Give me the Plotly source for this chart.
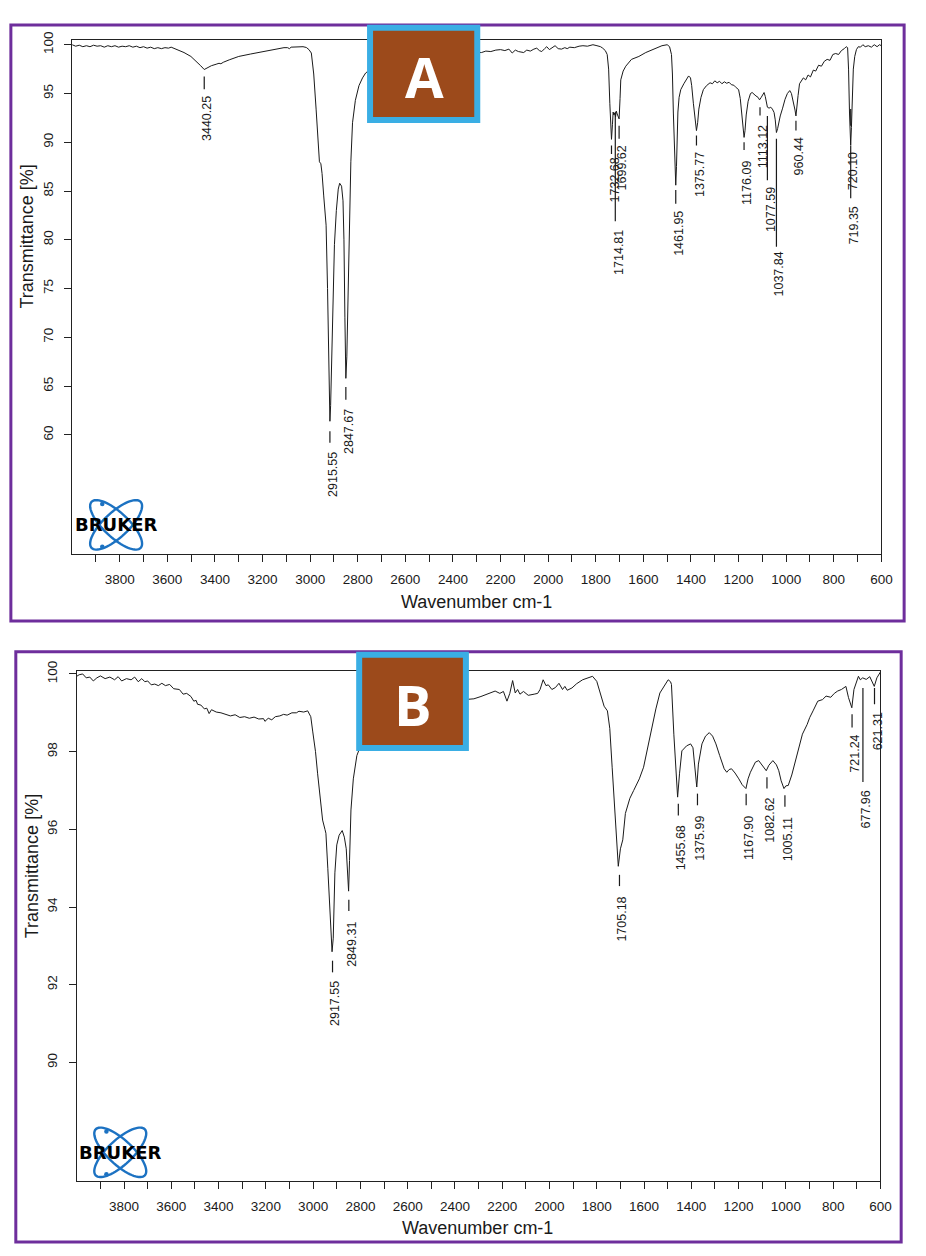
import math
import plotly.graph_objects as go

W, H = 926, 1256

# ---------------- Panel A data (wavenumber cm-1, transmittance %) ----------------
A_wn = [4000, 3985, 3970, 3955, 3940, 3925, 3910, 3895, 3880, 3865, 3850, 3835, 3820, 3805, 3790,
        3775, 3760, 3745, 3730, 3715, 3700, 3685, 3670, 3655, 3640, 3625, 3610, 3595, 3584, 3556,
        3530, 3501, 3473, 3460, 3445, 3430, 3415, 3395, 3383, 3375, 3365, 3340, 3300, 3250, 3196,
        3150, 3110, 3095, 3087, 3080, 3050, 3030, 3016, 3005, 2995, 2985, 2975, 2966, 2961, 2955,
        2950, 2943, 2933, 2927, 2922, 2919, 2917, 2914, 2910, 2905, 2898, 2890, 2882, 2876, 2868,
        2862, 2858, 2854, 2850, 2846, 2841, 2836, 2829, 2822, 2810, 2795, 2780, 2767, 2730, 2690,
        2640, 2580, 2520, 2460, 2400, 2340, 2300, 2280, 2262, 2241, 2220, 2200, 2182, 2165, 2151,
        2138, 2125, 2103, 2090, 2075, 2060, 2048, 2037, 2027, 2015, 2006, 1995, 1985, 1971, 1958,
        1944, 1930, 1920, 1909, 1890, 1870, 1854, 1835, 1812, 1795, 1780, 1771, 1760, 1752, 1746,
        1741, 1737, 1734, 1730, 1727, 1724, 1720, 1717, 1714, 1710, 1706, 1702, 1698, 1695, 1685,
        1674, 1650, 1619, 1590, 1555, 1522, 1500, 1490, 1482, 1478, 1474, 1470, 1466, 1464, 1461,
        1458, 1455, 1450, 1443, 1430, 1420, 1410, 1402, 1397, 1390, 1383, 1377, 1372, 1367, 1358,
        1348, 1335, 1320, 1310, 1300, 1290, 1280, 1270, 1260, 1250, 1240, 1230, 1220, 1210, 1200,
        1193, 1186, 1180, 1177, 1173, 1168, 1160, 1150, 1143, 1135, 1127, 1118, 1112, 1105, 1098,
        1093, 1088, 1083, 1079, 1072, 1065, 1058, 1051, 1046, 1041, 1036, 1030, 1025, 1015, 1005,
        995, 985, 978, 970, 963, 959, 955, 950, 944, 936, 928, 918, 908, 898, 886,
        876, 864, 852, 840, 828, 816, 804, 792, 780, 768, 756, 748, 742, 738, 734,
        731, 729, 726, 722, 718, 712, 705, 697, 688, 678, 668, 655, 642, 630, 618,
        608, 600]
A_T = [100.0, 99.85, 99.95, 99.8, 99.9, 99.8, 99.95, 99.85, 99.9, 99.75, 99.9, 99.8, 99.9, 99.75, 99.85,
       99.8, 99.9, 99.75, 99.85, 99.7, 99.8, 99.65, 99.75, 99.6, 99.7, 99.6, 99.7, 99.65, 99.75, 99.5,
       99.2, 98.8, 98.2, 97.85, 97.46, 97.65, 97.85, 98.0, 98.1, 98.05, 98.2, 98.45, 98.8, 99.05, 99.3,
       99.55, 99.7, 99.7, 99.6, 99.75, 99.8, 99.8, 99.72, 99.5, 99.15, 97.0, 93.4, 89.5, 88.0, 87.8,
       86.8, 84.5, 81.5, 75.0, 68.0, 63.0, 61.4, 63.0, 68.0, 74.0, 79.5, 83.0, 85.2, 85.8, 85.5,
       84.0, 80.0, 72.0, 65.8, 68.0, 75.0, 81.5, 88.0, 92.0, 94.3, 95.8, 96.6, 97.1, 97.8, 98.3,
       98.7, 98.95, 99.1, 99.2, 99.2, 99.25, 99.2, 99.2, 99.35, 99.3, 99.45, 99.5, 99.4, 99.55, 99.15,
       99.45, 99.3, 99.2, 99.45, 99.35, 99.55, 99.65, 99.4, 99.3, 99.6, 99.8, 99.5, 99.7, 99.9, 99.6,
       99.55, 99.7, 99.6, 99.75, 99.7, 99.85, 99.9, 99.85, 100.0, 99.9, 99.8, 99.65, 99.4, 99.0, 97.5,
       94.0, 91.5, 90.3, 91.8, 93.1, 92.8, 93.0, 92.6, 93.2, 92.9, 92.5, 92.4, 94.5, 96.4, 97.3,
       97.8, 98.5, 98.8, 99.2, 99.6, 99.9, 100.0, 99.8, 99.0, 97.0, 93.0, 89.7, 86.8, 85.6, 87.5,
       91.0, 93.1, 94.6, 95.4, 96.0, 96.4, 96.8, 96.6, 95.8, 94.0, 92.3, 91.2, 92.0, 93.4, 94.6,
       95.4, 95.8, 96.1, 96.0, 96.3, 96.1, 96.25, 96.0, 96.2, 96.05, 96.15, 95.9, 95.85, 95.6, 95.4,
       94.5, 92.5, 91.0, 90.5, 91.2, 92.8, 94.2, 95.0, 95.1, 94.9, 94.75, 94.6, 94.35, 94.6, 95.0,
       95.1, 94.7, 94.0, 93.6, 93.5, 93.6, 93.4, 93.06, 92.3, 91.0, 91.4, 92.2, 92.7, 93.5, 94.4,
       95.0, 95.3, 95.0, 94.2, 93.3, 92.7, 93.4, 94.8, 96.0, 96.3, 96.6, 96.4, 96.9, 96.7, 97.4,
       97.3, 97.9, 97.8, 98.3, 98.5, 98.4, 99.0, 99.1, 99.0, 99.4, 99.6, 99.8, 99.7, 97.5, 93.0,
       90.5, 89.7, 91.5, 95.0, 97.5, 98.8, 99.5, 99.8, 99.75, 100.0, 99.8, 99.9, 99.75, 100.0, 99.8,
       100.0, 99.9]

A_peak_labels = ["3440.25", "2915.55", "2847.67", "1732.68", "1714.81", "1699.62", "1461.95",
                 "1375.77", "1176.09", "1113.12", "1077.59", "1037.84", "960.44", "720.10", "719.35"]
# label placement (x in cm-1, dash start/end and text top in %T)
A_label_x = [3445, 2917, 2850, 1734, 1718, 1702, 1464, 1377, 1177, 1110, 1079, 1041, 959, 729, 729]
A_dash_top = [96.75, 60.37, 64.9, 89.66, 93.1, 91.7, 85.1, 90.7, 90.0, 93.6, 92.7, 90.35, 92.2, 93.4, 89.66]
A_dash_bot = [95.43, 59.2, 63.6, 88.8, 81.9, 90.35, 83.7, 89.66, 89.2, 92.74, 86.1, 79.3, 91.2, 91.7, 84.25]
A_text_top = [94.92, 58.5, 62.9, 88.65, 81.2, 89.84, 83.2, 89.2, 88.3, 91.9, 85.6, 79.0, 90.7, 89.16, 83.6]

# ---------------- Panel B data ----------------
B_wn = [4000, 3990, 3975, 3960, 3945, 3930, 3915, 3900, 3880, 3860, 3840, 3825, 3810, 3790, 3770,
        3755, 3740, 3725, 3712, 3700, 3685, 3670, 3655, 3640, 3625, 3607, 3590, 3575, 3566, 3550,
        3535, 3517, 3505, 3495, 3489, 3475, 3460, 3450, 3440, 3430, 3410, 3390, 3370, 3350, 3330,
        3310, 3290, 3270, 3250, 3230, 3210, 3204, 3190, 3175, 3160, 3141, 3125, 3110, 3090, 3071,
        3060, 3040, 3023, 3010, 3002, 2990, 2981, 2970, 2960, 2950, 2946, 2938, 2932, 2925, 2920,
        2915, 2908, 2900, 2890, 2877, 2868, 2860, 2855, 2850, 2846, 2840, 2830, 2815, 2790, 2750,
        2700, 2650, 2600, 2550, 2500, 2450, 2400, 2340, 2320, 2290, 2270, 2250, 2230, 2210, 2195,
        2180, 2168, 2156, 2145, 2135, 2125, 2110, 2090, 2065, 2050, 2040, 2027, 2015, 2005, 1990,
        1975, 1960, 1945, 1935, 1925, 1905, 1885, 1860, 1840, 1818, 1800, 1785, 1769, 1755, 1745,
        1735, 1722, 1709, 1700, 1690, 1679, 1660, 1644, 1620, 1602, 1585, 1568, 1550, 1533, 1515,
        1498, 1488, 1484, 1474, 1465, 1458, 1450, 1440, 1420, 1403, 1393, 1385, 1377, 1370, 1355,
        1340, 1324, 1310, 1296, 1280, 1261, 1250, 1240, 1230, 1215, 1199, 1185, 1169, 1160, 1150,
        1129, 1115, 1100, 1083, 1072, 1055, 1040, 1030, 1020, 1008, 1000, 990, 975, 955, 930,
        910, 899, 885, 865, 845, 830, 810, 795, 781, 765, 746, 735, 721, 712, 693,
        685, 675, 660, 645, 637, 626, 615, 605, 600]
B_T = [99.94, 99.98, 100.0, 99.9, 99.92, 99.82, 99.9, 99.95, 99.88, 99.92, 99.85, 99.93, 99.82, 99.88, 99.85,
       99.92, 99.8, 99.88, 99.8, 99.82, 99.72, 99.74, 99.7, 99.76, 99.7, 99.73, 99.62, 99.6, 99.6, 99.48,
       99.5, 99.42, 99.3, 99.32, 99.22, 99.2, 99.1, 99.12, 98.98, 99.08, 99.02, 99.0, 98.96, 98.92, 98.95,
       98.88, 98.9, 98.86, 98.89, 98.84, 98.85, 98.78, 98.86, 98.82, 98.9, 98.92, 98.96, 98.94, 99.0, 99.0,
       99.04, 99.02, 99.05, 98.9, 98.53, 98.0, 97.43, 96.8, 96.24, 96.0, 95.9, 95.0, 94.2, 93.2, 92.85,
       93.2, 94.88, 95.6, 95.85, 95.97, 95.8, 95.5, 94.9, 94.41, 95.2, 96.5, 97.3, 97.9, 98.3, 98.6,
       98.8, 99.0, 99.1, 99.2, 99.25, 99.3, 99.32, 99.34, 99.36, 99.42, 99.47, 99.5, 99.56, 99.5, 99.55,
       99.3, 99.5, 99.83, 99.51, 99.6, 99.48, 99.55, 99.45, 99.48, 99.5, 99.6, 99.85, 99.7, 99.72, 99.6,
       99.65, 99.76, 99.6, 99.68, 99.58, 99.64, 99.75, 99.85, 99.9, 99.94, 99.81, 99.47, 99.17, 99.05, 98.6,
       97.6, 96.24, 95.05, 95.5, 95.73, 96.41, 96.8, 97.0, 97.3, 97.6, 98.1, 98.62, 99.1, 99.51, 99.7,
       99.85, 99.8, 99.73, 98.45, 97.4, 96.83, 97.43, 98.02, 98.15, 98.2, 98.1, 97.6, 97.09, 97.68, 98.2,
       98.4, 98.49, 98.4, 98.2, 97.9, 97.56, 97.47, 97.54, 97.56, 97.45, 97.3, 97.15, 97.05, 97.3, 97.47,
       97.73, 97.77, 97.65, 97.51, 97.65, 97.77, 97.66, 97.51, 97.25, 97.05, 97.12, 97.13, 97.4, 97.86, 98.45,
       98.7, 98.88, 99.05, 99.3, 99.34, 99.43, 99.4, 99.5, 99.56, 99.6, 99.68, 99.39, 99.13, 99.6, 99.94,
       99.85, 99.9, 99.86, 99.93, 99.82, 99.68, 99.9, 100.03, 100.05]

B_peak_labels = ["2917.55", "2849.31", "1705.18", "1455.68", "1375.99", "1167.90", "1082.62",
                 "1005.11", "721.24", "677.96", "621.31"]
B_label_x = [2918, 2849, 1704, 1455, 1374, 1168, 1080, 1004, 720, 674, 625]
B_dash_top = [92.62, 94.19, 94.83, 96.66, 96.92, 96.92, 97.34, 96.88, 98.96, 99.64, 99.64]
B_dash_bot = [92.32, 93.9, 94.54, 96.36, 96.62, 96.62, 97.05, 96.58, 98.62, 97.22, 99.22]
B_text_top = [92.15, 93.68, 94.32, 96.15, 96.40, 96.40, 96.88, 96.36, 98.49, 97.05, 99.05]

A_yticks = [60, 65, 70, 75, 80, 85, 90, 95, 100]
B_yticks = [90, 92, 94, 96, 98, 100]
X_ticks = list(range(3900, 599, -100))
X_ticktext = [str(v) if v % 200 == 0 else "" for v in X_ticks]

FONT = "Liberation Sans, Arial, sans-serif"
INK = "#1a1a1a"


def px(x):
    return x / W


def py(y):
    return 1 - y / H


fig = go.Figure()
fig.add_trace(go.Scatter(x=A_wn, y=A_T, mode="lines", line=dict(color=INK, width=1),
                         xaxis="x", yaxis="y", hoverinfo="skip"))
fig.add_trace(go.Scatter(x=B_wn, y=B_T, mode="lines", line=dict(color=INK, width=1),
                         xaxis="x2", yaxis="y2", hoverinfo="skip"))

shapes = []
annotations = []


def add_labels(labels, xs, dtop, dbot, ttop, xref, yref):
    for lab, x, a, b, t in zip(labels, xs, dtop, dbot, ttop):
        shapes.append(dict(type="line", xref=xref, yref=yref, x0=x, x1=x, y0=a, y1=b,
                           line=dict(color=INK, width=1.2), layer="above"))
        annotations.append(dict(text=lab, x=x, y=t, xref=xref, yref=yref, showarrow=False,
                                textangle=-90, xanchor="center", yanchor="top", xshift=3,
                                font=dict(family=FONT, size=12.5, color=INK)))


add_labels(A_peak_labels, A_label_x, A_dash_top, A_dash_bot, A_text_top, "x", "y")
add_labels(B_peak_labels, B_label_x, B_dash_top, B_dash_bot, B_text_top, "x2", "y2")

# purple outer frames
for (x0, y0, x1, y1) in [(11, 15, 915, 616), (16, 647, 912, 1242)]:
    shapes.append(dict(type="rect", xref="paper", yref="paper", x0=px(x0), x1=px(x1),
                       y0=py(y1), y1=py(y0), line=dict(color="#6E2E9C", width=3)))

# panel letter boxes
for (x0, y0, x1, y1, letter, cx, cy) in [(374.5, 18, 483, 111, "A", 429.5, 67),
                                         (363.5, 650, 471.5, 744, "B", 417.5, 700)]:
    shapes.append(dict(type="rect", xref="paper", yref="paper", x0=px(x0), x1=px(x1),
                       y0=py(y1), y1=py(y0), fillcolor="#9C4A1B",
                       line=dict(color="#3AAEE4", width=6), layer="above"))
    annotations.append(dict(text="<b>%s</b>" % letter, x=px(cx), y=py(cy), xref="paper", yref="paper",
                            showarrow=False, xanchor="center", yanchor="middle",
                            font=dict(family="Open Sans, Liberation Sans, sans-serif", size=56, color="white")))


def ellipse_path(cx, cy, a, b, ang):
    th = math.radians(ang)
    pts = []
    for i in range(73):
        t = 2 * math.pi * i / 72
        ex, ey = a * math.cos(t), b * math.sin(t)
        X = cx + ex * math.cos(th) - ey * math.sin(th)
        Y = cy + ex * math.sin(th) + ey * math.cos(th)
        pts.append("%.5f,%.5f" % (px(X), py(Y)))
    return "M " + " L ".join(pts) + " Z"


# BRUKER logos
for (cx, cy, tx) in [(117.5, 519, 117), (121.7, 1151.5, 121.2)]:
    for ang in (43, -43):
        shapes.append(dict(type="path", xref="paper", yref="paper", path=ellipse_path(cx, cy, 34, 12.5, ang),
                           line=dict(color="#1C72C2", width=2.4)))
    for dy in (-21, 22):
        r = 2.3
        shapes.append(dict(type="circle", xref="paper", yref="paper", x0=px(cx - 14 - r), x1=px(cx - 14 + r),
                           y0=py(cy + dy + r), y1=py(cy + dy - r), fillcolor="#1C72C2",
                           line=dict(color="#1C72C2", width=0)))
    annotations.append(dict(text="<b>BRUKER</b>", x=px(tx), y=py(cy), xref="paper", yref="paper",
                            showarrow=False, xanchor="center", yanchor="middle",
                            font=dict(family="DejaVu Sans, sans-serif", size=18, color="black")))

# axis titles
for (x, y, txt, ang) in [(27, 228.7, "Transmittance [%]", -90), (32.5, 863, "Transmittance [%]", -90),
                         (482.5, 597, "Wavenumber cm-1", 0), (483.5, 1228, "Wavenumber cm-1", 0)]:
    annotations.append(dict(text=txt, x=px(x), y=py(y), xref="paper", yref="paper", showarrow=False,
                            textangle=ang, xanchor="center", yanchor="middle",
                            font=dict(family=FONT, size=18, color=INK)))

axis_common = dict(showgrid=False, zeroline=False, showline=True, linecolor="#222", linewidth=1.2,
                   mirror=True, ticks="outside", ticklen=7, tickwidth=1.2, tickcolor="#222",
                   tickfont=dict(family=FONT, size=13.5, color=INK))

fig.update_layout(
    width=W, height=H, margin=dict(l=0, r=0, t=0, b=0),
    paper_bgcolor="white", plot_bgcolor="white", showlegend=False,
    xaxis=dict(domain=[px(73), px(892)], range=[4000, 600], anchor="y",
               tickmode="array", tickvals=X_ticks, ticktext=X_ticktext, ticklabelstandoff=6, **axis_common),
    yaxis=dict(domain=[py(548), py(30)], range=[47.83, 100.51], anchor="x",
               tickmode="array", tickvals=A_yticks, ticktext=[str(v) for v in A_yticks],
               tickangle=-90, ticklabelstandoff=6, **axis_common),
    xaxis2=dict(domain=[px(77.7), px(891)], range=[4000, 600], anchor="y2",
                tickmode="array", tickvals=X_ticks, ticktext=X_ticktext, ticklabelstandoff=6, **axis_common),
    yaxis2=dict(domain=[py(1180), py(666)], range=[86.96, 100.084], anchor="x2",
                tickmode="array", tickvals=B_yticks, ticktext=[str(v) for v in B_yticks],
                tickangle=-90, ticklabelstandoff=6, **axis_common),
    shapes=shapes, annotations=annotations,
)

fig.write_html("out.html", config={"displayModeBar": False},
               post_script="document.documentElement.style.margin='0';document.body.style.margin='0';"
                           "document.documentElement.style.overflow='hidden';document.body.style.overflow='hidden';")
